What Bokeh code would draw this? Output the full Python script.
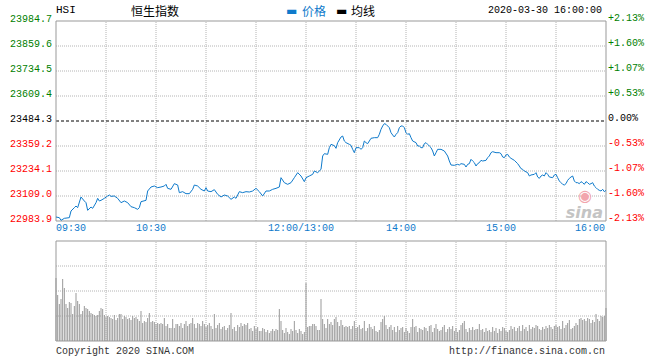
from bokeh.plotting import figure
from bokeh.models import Range1d
from bokeh.core.properties import value
from bokeh.embed import file_html
from bokeh.resources import INLINE

# ---------------- data ----------------
prev_close = 23484.3
price_levels = [23984.7, 23859.6, 23734.5, 23609.4, 23484.3, 23359.2, 23234.1, 23109.0, 22983.9]
pct_labels = ["+2.13%", "+1.60%", "+1.07%", "+0.53%", "0.00%", "-0.53%", "-1.07%", "-1.60%", "-2.13%"]

# trading minute index (0 = 09:30, 150 = 12:00/13:00, 330 = 16:00)
time_ticks = [0, 60, 150, 210, 270, 330]
time_labels = ["09:30", "10:30", "12:00/13:00", "14:00", "15:00", "16:00"]
grid_minutes = [30, 60, 90, 120, 150, 180, 210, 240, 270, 300]

price_min = [0, 2, 3, 5, 8, 9, 11, 12, 13, 15, 17, 18, 19, 21, 22, 24, 25, 26, 27, 29,
             31, 32, 33, 35, 37, 39, 41, 43, 45, 47, 49, 50, 51, 54, 55, 57, 59, 61, 63, 65,
             66, 67, 69, 71, 73, 74, 76, 78, 80, 82, 83, 85, 87, 89, 90, 91, 93, 95, 97, 99,
             101, 103, 105, 107, 108, 110, 112, 114, 116, 118, 120, 122, 124, 126, 128, 130, 132, 134, 135, 137,
             139, 141, 143, 145, 147, 149, 150, 152, 154, 155, 157, 159, 160, 161, 163, 164, 165, 167, 168, 169,
             171, 172, 173, 174, 176, 177, 178, 179, 180, 182, 183, 184, 185, 186, 187, 188, 189, 191, 193, 194,
             195, 196, 197, 198, 199, 200, 201, 202, 203, 204, 205, 206, 207, 208, 209, 210, 211, 212, 213, 214,
             216, 217, 218, 219, 220, 221, 222, 223, 224, 225, 226, 227, 228, 229, 231, 233, 235, 236, 237, 239,
             241, 242, 243, 245, 246, 247, 248, 249, 250, 251, 252, 253, 254, 255, 256, 258, 259, 260, 261, 262,
             264, 266, 267, 268, 269, 270, 271, 272, 273, 275, 277, 278, 279, 280, 281, 283, 284, 285, 287, 288,
             289, 290, 291, 292, 293, 294, 295, 296, 298, 299, 300, 301, 302, 303, 304, 305, 306, 307, 308, 309,
             310, 311, 312, 313, 314, 315, 316, 317, 318, 319, 320, 321, 322, 323, 324, 325, 326, 327, 328, 329, 330]

price_val = [23003.9, 23000.6, 22987.2, 22997.2, 23000.6, 23033.9, 23050.6, 23058.9, 23050.6, 23104.0,
             23084.0, 23075.6, 23037.3, 23053.9, 23047.3, 23075.6, 23097.3, 23084.0, 23087.3, 23097.3,
             23109.0, 23114.0, 23107.3, 23109.0, 23097.3, 23075.6, 23084.0, 23075.6, 23055.6, 23050.6,
             23042.3, 23050.6, 23080.6, 23087.3, 23134.0, 23154.0, 23159.0, 23150.7, 23154.0, 23159.0,
             23167.4, 23147.3, 23142.4, 23170.7, 23164.0, 23125.7, 23130.7, 23120.7, 23120.7, 23142.4,
             23164.0, 23159.0, 23142.4, 23134.0, 23150.7, 23134.0, 23130.7, 23140.7, 23117.3, 23104.0,
             23114.0, 23109.0, 23092.3, 23104.0, 23097.3, 23130.7, 23125.7, 23130.7, 23129.0, 23134.0,
             23147.3, 23130.7, 23109.0, 23134.0, 23134.0, 23142.4, 23147.3, 23154.0, 23200.7, 23175.7,
             23167.4, 23175.7, 23200.7, 23225.8, 23209.1, 23180.7, 23200.7, 23209.1, 23217.4, 23234.1,
             23225.8, 23242.4, 23309.2, 23320.8, 23317.5, 23350.9, 23367.5, 23360.9, 23347.5, 23375.9,
             23404.2, 23409.2, 23384.2, 23375.9, 23367.5, 23362.5, 23342.5, 23325.8, 23350.9, 23350.9,
             23342.5, 23350.9, 23384.2, 23375.9, 23370.9, 23384.2, 23397.6, 23400.9, 23400.9, 23417.6,
             23442.6, 23459.3, 23470.9, 23467.6, 23459.3, 23450.9, 23425.9, 23414.3, 23404.2, 23417.6,
             23425.9, 23450.9, 23459.3, 23459.3, 23450.9, 23425.9, 23417.6, 23420.9, 23400.9, 23384.2,
             23375.9, 23359.2, 23359.2, 23350.9, 23350.9, 23370.9, 23375.9, 23367.5, 23359.2, 23350.9,
             23334.2, 23309.2, 23325.8, 23342.5, 23342.5, 23334.2, 23309.2, 23284.1, 23264.1, 23262.5,
             23267.5, 23264.1, 23270.8, 23267.5, 23254.1, 23267.5, 23270.8, 23292.5, 23284.1, 23275.8,
             23259.1, 23270.8, 23275.8, 23287.5, 23284.1, 23287.5, 23300.8, 23309.2, 23325.8, 23330.8,
             23325.8, 23325.8, 23320.8, 23304.2, 23300.8, 23314.2, 23317.5, 23304.2, 23297.5, 23287.5,
             23270.8, 23259.1, 23245.8, 23242.4, 23234.1, 23225.8, 23209.1, 23214.1, 23217.4, 23225.8,
             23204.1, 23197.4, 23209.1, 23214.1, 23209.1, 23225.8, 23217.4, 23204.1, 23200.7, 23214.1,
             23217.4, 23200.7, 23184.1, 23175.7, 23167.4, 23164.0, 23170.7, 23187.4, 23197.4, 23204.1,
             23209.1, 23184.1, 23175.7, 23175.7, 23170.7, 23180.7, 23175.7, 23167.4, 23180.7, 23175.7,
             23167.4, 23170.7, 23175.7, 23159.0, 23150.7, 23142.4, 23137.4, 23134.0, 23142.4, 23130.7, 23137.4]

# per-minute turnover (relative units, panel top = 100)
volume = [63, 46, 37, 42, 62, 53, 37, 33, 39, 38, 27, 35, 48, 40, 37, 27, 30, 35, 33, 32,
          30, 28, 27, 26, 25, 26, 30, 33, 32, 26, 24,
          25, 24, 23, 22, 26, 21, 23, 27, 27, 22, 25, 24, 22, 23, 21, 25, 23, 24, 22, 20,
          30, 18, 20, 19, 23, 28, 19, 20, 19,
          17, 18, 17, 18, 17, 23, 15, 17, 13, 13, 22, 13, 17, 17, 15, 18, 13, 17, 20, 15,
          17, 18, 23, 17, 13, 18, 17, 15, 20, 17,
          14, 16, 18, 15, 12, 27, 13, 16, 18, 12, 14, 15, 11, 13, 16, 28, 12, 14, 10, 16,
          14, 18, 15, 17, 16, 18, 12, 13, 10, 15,
          12, 14, 10, 10, 13, 12, 9, 11, 8, 10, 12, 10, 12, 11, 32, 20, 11, 8, 13, 9,
          7, 12, 10, 20, 11, 8, 12, 10, 7, 9,
          58, 14, 15, 15, 17, 17, 15, 11, 11, 42, 22, 17, 13, 22, 17, 19, 16, 22, 24, 19,
          15, 21, 16, 14, 15, 14, 15, 12, 15, 20,
          13, 14, 16, 12, 13, 20, 10, 13, 17, 14,
          12, 15, 10, 9, 11, 19, 22, 25, 16, 12, 14, 16, 11, 14, 9, 15, 11, 13, 14, 9,
          13, 10, 8, 14, 22, 14, 15, 9, 13, 12, 11, 14, 13, 10, 15, 16, 9, 13, 17, 12,
          10, 11, 14, 16, 9, 12, 14, 12, 15, 10, 13, 9, 11, 16, 18, 20, 12, 9, 13, 11,
          14, 11, 12, 12, 17, 11, 12, 9, 13, 10, 11, 9, 14, 10, 13, 8, 12, 10, 14, 13,
          10, 9, 11, 15, 12, 14, 10, 13, 15, 10, 16, 12, 14, 10, 16, 12, 14, 13, 16, 15,
          12, 11, 14, 12, 15, 13, 16, 14, 12, 15, 16, 14, 15, 12, 20, 13, 16, 18, 21, 12,
          13, 15, 18, 16, 22, 23, 21, 22, 20, 23, 22, 18, 21, 19, 27, 22, 20, 25, 24, 25, 33]
vol_min = list(range(len(volume)))
vol_grid = [25, 50, 75]
vol_top = 100

header_code = "HSI"
header_name = "恒生指数"
legend_price = "价格"
legend_avg = "均线"
stamp = "2020-03-30 16:00:00"
footer_left = "Copyright 2020 SINA.COM"
footer_right = "http://finance.sina.com.cn"

# ---------------- layout / styles (pixels) ----------------
W, H = 660, 360
PX_L, PX_R = 55.5, 605.5      # panel left / right (pixel centres, crisp 1px lines)
P_TOP, P_BOT = 20.5, 220.5    # price panel top / bottom
V_TOP, V_BOT = 240.5, 340.5   # volume panel top / bottom

MONO = "Liberation Mono"
CJK = "Noto Sans CJK SC"
BLUE = "#0f7acb"
GREEN = "#008000"
RED = "#ff0000"
GRID = "#b4b4b4"
BORDER = "#999999"

t0, t1 = time_ticks[0], time_ticks[-1]
y_lo, y_hi = price_levels[-1], price_levels[0]

xs = (t1 - t0) / (PX_R - PX_L)
ps = (y_hi - y_lo) / (P_BOT - P_TOP)
vs = vol_top / (V_BOT - V_TOP)

p = figure(width=W, height=H,
           x_range=Range1d(t0 - PX_L * xs, t1 + (W - PX_R) * xs),
           y_range=Range1d(y_lo - (H - P_BOT) * ps, y_hi + P_TOP * ps),
           output_backend="svg", toolbar_location=None, min_border=0)
p.extra_y_ranges = {"vol": Range1d(0 - (H - V_BOT) * vs, vol_top + V_TOP * vs)}
p.xaxis.visible = False
p.yaxis.visible = False
p.xgrid.visible = False
p.ygrid.visible = False
p.outline_line_color = None
p.background_fill_color = "white"
p.border_fill_color = "white"

# ---- price panel grid ----
n = len(grid_minutes)
p.segment(x0=grid_minutes, x1=grid_minutes, y0=[y_lo] * n, y1=[y_hi] * n,
          line_color=GRID, line_dash="1 1", line_width=1)
inner = [v for v in price_levels[1:-1] if v != prev_close]
p.segment(x0=[t0] * len(inner), x1=[t1] * len(inner), y0=inner, y1=inner,
          line_color=GRID, line_dash="1 1", line_width=1)
p.segment(x0=[t0], x1=[t1], y0=[prev_close], y1=[prev_close],
          line_color="black", line_dash="3 2", line_width=1)
p.quad(left=[t0], right=[t1], bottom=[y_lo], top=[y_hi], fill_color=None,
       line_color=BORDER, line_width=1)

# watermark
p.text(x=[t1], y=[y_lo], text=["◉"], x_offset=-21, y_offset=-26,
       text_align=value("center"), text_baseline=value("middle"),
       text_font=value("DejaVu Sans"), text_font_size=value("16px"), text_color="#f2a5ad")
p.text(x=[t1], y=[y_lo], text=["sina"], x_offset=-3, y_offset=-9,
       text_align=value("right"), text_baseline=value("alphabetic"),
       text_font=value("DejaVu Sans"), text_font_size=value("16px"),
       text_font_style=value("bold italic"), text_color="#c4c4c4")

# price line
p.line(price_min, price_val, line_color=BLUE, line_width=1)

# left price labels / right percentage labels
lab_colors = [GREEN if v > prev_close else ("black" if v == prev_close else RED) for v in price_levels]
k = len(price_levels)
p.text(x=[t0] * k, y=price_levels, text=[f"{v:.1f}" for v in price_levels],
       x_offset=-4, y_offset=-3, text_color=lab_colors,
       text_align=value("right"), text_baseline=value("middle"),
       text_font=value(MONO), text_font_size=value("10px"))
p.text(x=[t1] * k, y=price_levels, text=pct_labels,
       x_offset=2, y_offset=-3, text_color=lab_colors,
       text_align=value("left"), text_baseline=value("middle"),
       text_font=value(MONO), text_font_size=value("10px"))

# time labels
m = len(time_ticks)
aligns = ["left"] + ["center"] * (m - 2) + ["right"]
xoffs = [0] + [-5] * (m - 2) + [-1]
p.text(x=time_ticks, y=[y_lo] * m, text=time_labels, x_offset=xoffs, y_offset=7,
       text_align=aligns, text_baseline=value("middle"), text_color=BLUE,
       text_font=value(MONO), text_font_size=value("10px"))

# header
p.text(x=[t0], y=[y_hi], text=[header_code], x_offset=0, y_offset=-11,
       text_align=value("left"), text_baseline=value("middle"), text_color="black",
       text_font=value(MONO), text_font_size=value("11px"))
p.text(x=[t0, t0, t0], y=[y_hi] * 3, text=[header_name, legend_price, legend_avg],
       x_offset=[99, 246, 295], y_offset=-11,
       text_align=["center", "left", "left"], text_baseline=value("middle"),
       text_color=["black", BLUE, "black"],
       text_font=value(CJK), text_font_size=value("12px"))
p.text(x=[t0, t0], y=[y_hi] * 2, text=["▬", "▬"], x_offset=[230, 280], y_offset=-10,
       text_align=value("left"), text_baseline=value("middle"),
       text_color=[BLUE, "black"], text_font=value("DejaVu Sans"), text_font_size=value("12px"))
p.text(x=[t1], y=[y_hi], text=[stamp], x_offset=-4, y_offset=-11,
       text_align=value("right"), text_baseline=value("middle"), text_color="black",
       text_font=value(MONO), text_font_size=value("10px"))

# ---- volume panel ----
p.segment(x0=grid_minutes, x1=grid_minutes, y0=[0] * n, y1=[vol_top] * n,
          line_color=GRID, line_dash="1 1", line_width=1, y_range_name="vol")
g = len(vol_grid)
p.segment(x0=[t0] * g, x1=[t1] * g, y0=vol_grid, y1=vol_grid,
          line_color=GRID, line_dash="1 1", line_width=1, y_range_name="vol")
p.vbar(x=vol_min, top=volume, bottom=0, width=0.6, fill_color="#999999",
       line_color=None, y_range_name="vol")
p.quad(left=[t0], right=[t1], bottom=[0], top=[vol_top], fill_color=None,
       line_color=BORDER, line_width=1, y_range_name="vol")

# footer
p.text(x=[t0, t1], y=[0, 0], text=[footer_left, footer_right], x_offset=[0, -1], y_offset=10,
       text_align=["left", "right"], text_baseline=value("middle"), text_color="#333333",
       text_font=value(MONO), text_font_size=value("10px"), y_range_name="vol")

open("out.html", "w").write(file_html(p, INLINE))
